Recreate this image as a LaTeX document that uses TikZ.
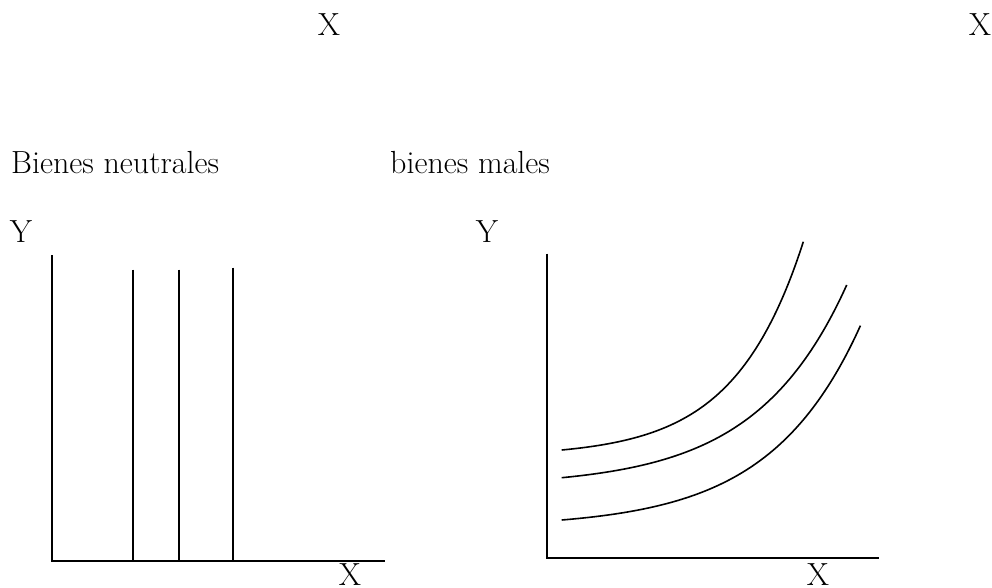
\documentclass[tikz,border=0pt]{standalone}
\begin{document}
\begin{tikzpicture}[x=1pt,y=-1pt,
  lbl/.style={inner sep=0pt,font=\fontsize{32}{38}\selectfont},
  ax/.style={line width=2pt},
  crv/.style={line width=1.6pt}]
\useasboundingbox (0,0) rectangle (992,588);
\clip (0,0) rectangle (992,588);
% top labels
\node[lbl,anchor=base] (tx1) at (329,36) {X};
\node[lbl,anchor=base] (tx2) at (980,36) {X};
% titles
\node[lbl,anchor=base west] (t1) at (11,173) {Bienes neutrales};
\node[lbl,anchor=base west] (t2) at (390,173) {bienes males};
% Y labels
\node[lbl,anchor=base] (y1) at (21,242) {Y};
\node[lbl,anchor=base] (y2) at (487,242) {Y};
% X labels
\node[lbl,anchor=base] (x1) at (350,585) {X};
\node[lbl,anchor=base] (x2) at (818,585) {X};
% left panel
\coordinate (o1) at (51.5,560.5);
\draw[ax] (51.5,255) -- (o1) -- (385,560.5);
\draw[ax] (132.5,269.5) -- (132.5,560.5);
\draw[ax] (178.5,269.5) -- (178.5,560.5);
\draw[ax] (232.5,267.5) -- (232.5,560.5);
% right panel
\coordinate (o2) at (546.5,557.5);
\draw[ax] (546.5,253.5) -- (o2) -- (879,557.5);
\draw[crv] plot[domain=561.7:803.3,samples=120,smooth] (\x,{450-6.47*(exp(0.0145*(\x-561.7))-1)});
\draw[crv] plot[domain=561.7:846.7,samples=120,smooth] (\x,{477.7-8.76*(exp(0.011*(\x-561.7))-1)});
\draw[crv] plot[domain=561.7:860.4,samples=120,smooth] (\x,{520-7.55*(exp(0.011*(\x-561.7))-1)});
\end{tikzpicture}
\end{document}
